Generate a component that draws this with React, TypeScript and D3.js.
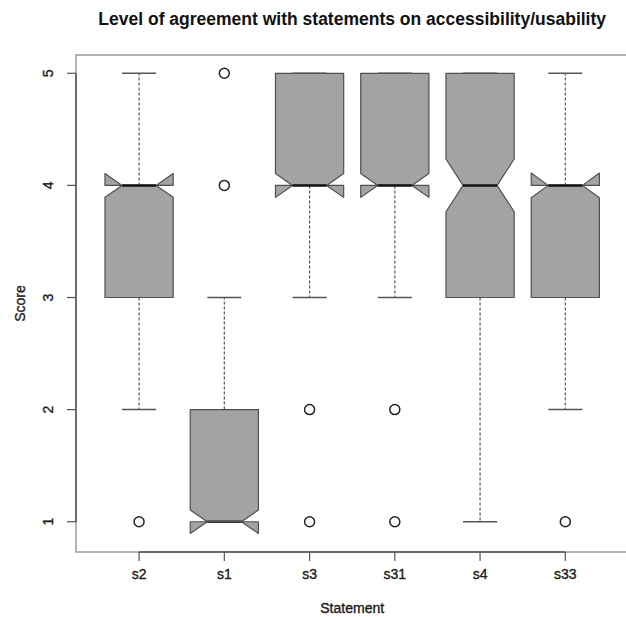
import React from 'react';
import * as d3 from 'd3';

// statements, in the order they appear
const categories = ['s2', 's1', 's3', 's31', 's4', 's33'];
const whiskerLow = [2, 1, 3, 3, 1, 2];
const q1 = [3, 1, 4, 4, 3, 3];
const median = [4, 1, 4, 4, 4, 4];
const q3 = [4, 2, 5, 5, 5, 4];
const whiskerHigh = [5, 3, 5, 5, 5, 5];
const notchHalf = [0.105, 0.104, 0.107, 0.107, 0.235, 0.11];
const outliers = [[1], [4, 5], [2, 1], [2, 1], [], [1]];
const yTicks = [1, 2, 3, 4, 5];

const W = 626, H = 617;
const left = 76, right = 628.4, top = 55, bottom = 552;

const App = () => {
    const x = d3.scaleLinear().domain([0.26, 6.74]).range([left, right]);
    const y = d3.scaleLinear().domain([0.73, 5.163]).range([bottom, top]);

    const boxW = 0.4;   // half box width in units
    const capW = 0.2;

    const fill = '#a3a3a3';
    const stroke = '#505050';
    const axisCol = '#555';
    const font = "'Liberation Sans', Arial, sans-serif";
    const txt = { fill: '#1a1a1a', stroke: '#1a1a1a', strokeWidth: 0.35 };

    const boxPath = (i) => {
        const c = i + 1;
        const L = x(c - boxW), R = x(c + boxW);
        const Ln = x(c - boxW / 2), Rn = x(c + boxW / 2);
        const m = median[i], n = notchHalf[i];
        const pts = [
            [L, y(q1[i])], [L, y(m - n)], [Ln, y(m)], [L, y(m + n)], [L, y(q3[i])],
            [R, y(q3[i])], [R, y(m + n)], [Rn, y(m)], [R, y(m - n)], [R, y(q1[i])]
        ];
        return d3.line()(pts) + 'Z';
    };

    return (
        <svg width={W} height={H} style={{ position: 'absolute', left: 0, top: 0, background: '#fff' }} fontFamily={font}>
            <text x={(left + right) / 2} y={25} textAnchor="middle" fontSize={17.5} fontWeight="bold" fill="#111">
                Level of agreement with statements on accessibility/usability
            </text>

            {/* plot frame */}
            <rect x={left} y={top} width={right - left} height={bottom - top} fill="none" stroke="#999" strokeWidth={1.5} />

            {categories.map((cat, i) => {
                const c = i + 1;
                return (
                    <g key={cat}>
                        <line x1={x(c)} x2={x(c)} y1={y(q3[i])} y2={y(whiskerHigh[i])} stroke={axisCol} strokeWidth={1.2} strokeDasharray="3,2" />
                        <line x1={x(c)} x2={x(c)} y1={y(q1[i])} y2={y(whiskerLow[i])} stroke={axisCol} strokeWidth={1.2} strokeDasharray="3,2" />
                        <path d={boxPath(i)} fill={fill} stroke={stroke} strokeWidth={1.2} strokeLinejoin="round" />
                        <line x1={x(c - boxW / 2)} x2={x(c + boxW / 2)} y1={y(median[i])} y2={y(median[i])} stroke="#111" strokeWidth={2.5} />
                        <line x1={x(c - capW)} x2={x(c + capW)} y1={y(whiskerHigh[i])} y2={y(whiskerHigh[i])} stroke={axisCol} strokeWidth={1.5} />
                        <line x1={x(c - capW)} x2={x(c + capW)} y1={y(whiskerLow[i])} y2={y(whiskerLow[i])} stroke={axisCol} strokeWidth={1.5} />
                        {outliers[i].map((v, k) => (
                            <circle key={k} cx={x(c)} cy={y(v)} r={5} fill="none" stroke="#222" strokeWidth={1.5} />
                        ))}
                    </g>
                );
            })}

            {/* y axis */}
            <line x1={left} x2={left} y1={y(1)} y2={y(5)} stroke={axisCol} strokeWidth={1.5} />
            {yTicks.map((t) => (
                <g key={t}>
                    <line x1={left - 9} x2={left} y1={y(t)} y2={y(t)} stroke={axisCol} strokeWidth={1.2} />
                    <text transform={`translate(53,${y(t)}) rotate(-90)`} textAnchor="middle" fontSize={14} {...txt}>{t}</text>
                </g>
            ))}

            {/* x axis */}
            <line x1={x(1)} x2={x(6)} y1={bottom} y2={bottom} stroke={axisCol} strokeWidth={1.5} />
            {categories.map((cat, i) => (
                <g key={cat}>
                    <line x1={x(i + 1)} x2={x(i + 1)} y1={bottom} y2={bottom + 9} stroke={axisCol} strokeWidth={1.2} />
                    <text x={x(i + 1)} y={579} textAnchor="middle" fontSize={14} {...txt}>{cat}</text>
                </g>
            ))}

            <text x={(left + right) / 2} y={613} textAnchor="middle" fontSize={14} {...txt}>Statement</text>
            <text transform={`translate(25,${(top + bottom) / 2}) rotate(-90)`} textAnchor="middle" fontSize={14} {...txt}>Score</text>
        </svg>
    );
};

export default App;
